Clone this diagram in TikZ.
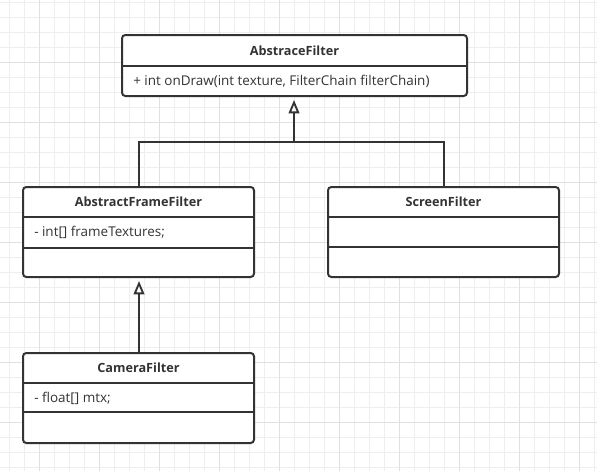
\documentclass[tikz,border=0pt]{standalone}
\usepackage{fontspec}
\setmainfont{Open Sans}
\usetikzlibrary{arrows.meta}
\definecolor{ink}{HTML}{333333}
\definecolor{gminor}{HTML}{EEEEEE}
\definecolor{gmajor}{HTML}{E0E0E0}
\begin{document}
\begin{tikzpicture}[x=0.75pt,y=-0.75pt,
  boxframe/.style={draw=ink,line width=1.5pt,rounded corners=2.5pt,fill=white},
  divline/.style={draw=ink,line width=1.5pt},
  titletext/.style={font=\fontsize{9.5}{11}\selectfont\bfseries,text=ink,inner sep=0pt},
  membertext/.style={font=\fontsize{10.1}{11}\selectfont,text=ink,inner sep=0pt,anchor=west},
  inherit/.style={draw=ink,line width=1.5pt,shorten >=3pt,-{Triangle[open,length=10pt,width=8pt,line width=1.4pt]}},
  link/.style={draw=ink,line width=1.5pt}]
\useasboundingbox (0,0) rectangle (597,471);
\fill[white] (0,0) rectangle (597,471);
% grid
\foreach \x in {9,24,...,597} \draw[gminor,line width=0.75pt] (\x,0) -- (\x,471);
\foreach \y in {2,17,...,471} \draw[gminor,line width=0.75pt] (0,\y) -- (597,\y);
\foreach \x in {39,99,...,597} \draw[gmajor,line width=0.75pt] (\x,0) -- (\x,471);
\foreach \y in {62,122,...,471} \draw[gmajor,line width=0.75pt] (0,\y) -- (597,\y);

% AbstraceFilter
\draw[boxframe] (122,35) rectangle (467,96);
\draw[divline] (122,66) -- (467,66);
\node[titletext] (af) at (294.5,50.5) {AbstraceFilter};
\node[membertext] (afm) at (133,81) {+ int onDraw(int texture, FilterChain filterChain)};
\coordinate (afb) at (294,96);

% AbstractFrameFilter
\draw[boxframe] (23,187) rectangle (254,277);
\draw[divline] (23,217) -- (254,217);
\draw[divline] (23,248) -- (254,248);
\node[titletext] (aff) at (138.5,202) {AbstractFrameFilter};
\node[membertext] (affm) at (34,232.5) {- int[] frameTextures;};
\coordinate (afft) at (139,187);
\coordinate (affb) at (139,277);

% ScreenFilter
\draw[boxframe] (328,187) rectangle (559,277);
\draw[divline] (328,217) -- (559,217);
\draw[divline] (328,247) -- (559,247);
\node[titletext] (sf) at (443.5,202) {ScreenFilter};
\coordinate (sft) at (444,187);

% CameraFilter
\draw[boxframe] (23,353) rectangle (254,443);
\draw[divline] (23,383) -- (254,383);
\draw[divline] (23,412) -- (254,412);
\node[titletext] (cf) at (138.5,368) {CameraFilter};
\node[membertext] (cfm) at (34,398) {- float[] mtx;};
\coordinate (cft) at (139,353);

% connectors
\coordinate (j) at (294,142);
\draw[link] (afft) |- (j);
\draw[link] (sft) |- (j);
\draw[inherit] (j) -- (afb);
\draw[inherit] (cft) -- (affb);
\end{tikzpicture}
\end{document}
